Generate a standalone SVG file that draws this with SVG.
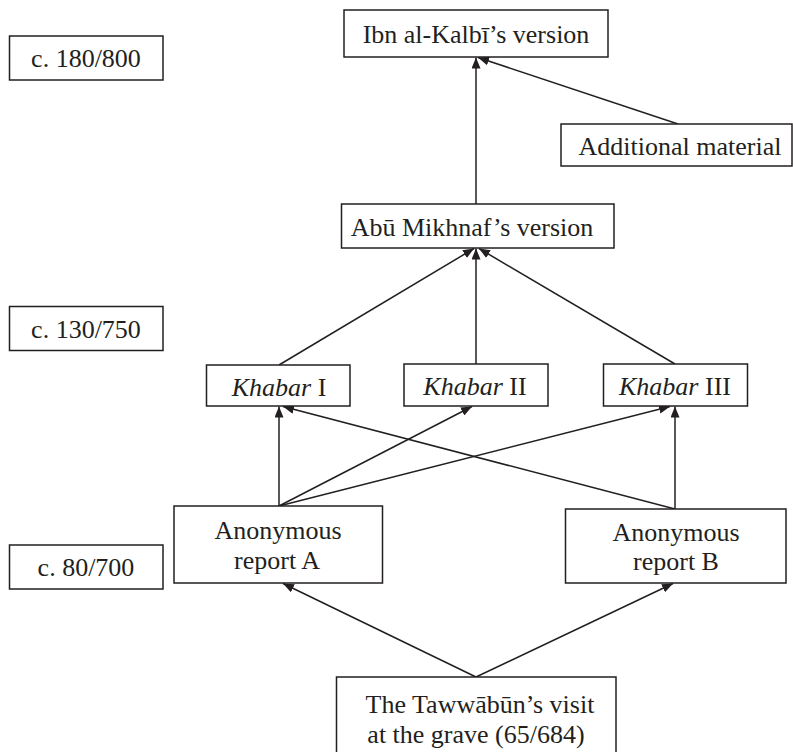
<svg xmlns="http://www.w3.org/2000/svg" width="793" height="752" viewBox="0 0 793 752">
<style>
rect{fill:#fff;stroke:#231f20;stroke-width:1.5}
text{font-family:"Liberation Serif","Times New Roman",serif;font-size:26px;fill:#231f20;text-anchor:middle}
.c line{stroke:#231f20;stroke-width:1.5;marker-end:url(#ah)}
</style>
<defs>
<marker id="ah" markerUnits="userSpaceOnUse" markerWidth="11" markerHeight="9" viewBox="0 0 11 9" refX="11" refY="4.5" orient="auto">
<path d="M0,0 L11,4.5 L0,9 Z" fill="#231f20"/>
</marker>
</defs>
<g class="c" id="connectors">
<line x1="476" y1="204" x2="476" y2="57.5"/>
<line x1="678" y1="124" x2="478" y2="57.5"/>
<line x1="279" y1="365" x2="474" y2="248.5"/>
<line x1="476" y1="364" x2="476" y2="248.5"/>
<line x1="675" y1="364" x2="479" y2="248.5"/>
<line x1="279" y1="506" x2="279" y2="406.5"/>
<line x1="279" y1="506" x2="472" y2="406.5"/>
<line x1="279" y1="506" x2="670" y2="406.5"/>
<line x1="675" y1="509" x2="283" y2="406.5"/>
<line x1="675" y1="509" x2="675" y2="406.5"/>
<line x1="476" y1="677" x2="283" y2="583.5"/>
<line x1="476" y1="677" x2="673" y2="583.5"/>
</g>
<g id="date180"><rect x="9.5" y="36" width="153.5" height="44"/><text x="86" y="67">c. 180/800</text></g>
<g id="date130"><rect x="9.5" y="306.5" width="153.5" height="44"/><text x="86" y="338">c. 130/750</text></g>
<g id="date80"><rect x="9.5" y="545" width="153.5" height="44"/><text x="86" y="576">c. 80/700</text></g>
<g id="ibn"><rect x="344" y="10" width="264" height="47"/><text x="476" y="43">Ibn al-Kalbī’s version</text></g>
<g id="additional"><rect x="561" y="124" width="231" height="42"/><text x="680" y="155">Additional material</text></g>
<g id="abu"><rect x="341.5" y="204" width="272.5" height="44"/><text x="472" y="236">Abū Mikhnaf’s version</text></g>
<g id="khabar1"><rect x="206.5" y="365" width="143.5" height="41"/><text x="279" y="396"><tspan font-style="italic">Khabar</tspan> I</text></g>
<g id="khabar2"><rect x="404" y="364" width="144" height="42"/><text x="475" y="395"><tspan font-style="italic">Khabar</tspan> II</text></g>
<g id="khabar3"><rect x="603.5" y="364" width="144" height="42"/><text x="675" y="395"><tspan font-style="italic">Khabar</tspan> III</text></g>
<g id="reportA"><rect x="174" y="506" width="208.5" height="77"/><text x="278" y="539">Anonymous</text><text x="277" y="569">report A</text></g>
<g id="reportB"><rect x="565.5" y="509" width="220.5" height="74"/><text x="676" y="541">Anonymous</text><text x="676" y="570">report B</text></g>
<g id="visit"><rect x="336.5" y="677" width="279.5" height="90"/><text x="480" y="713">The Tawwābūn’s visit</text><text x="476" y="743">at the grave (65/684)</text></g>
</svg>
